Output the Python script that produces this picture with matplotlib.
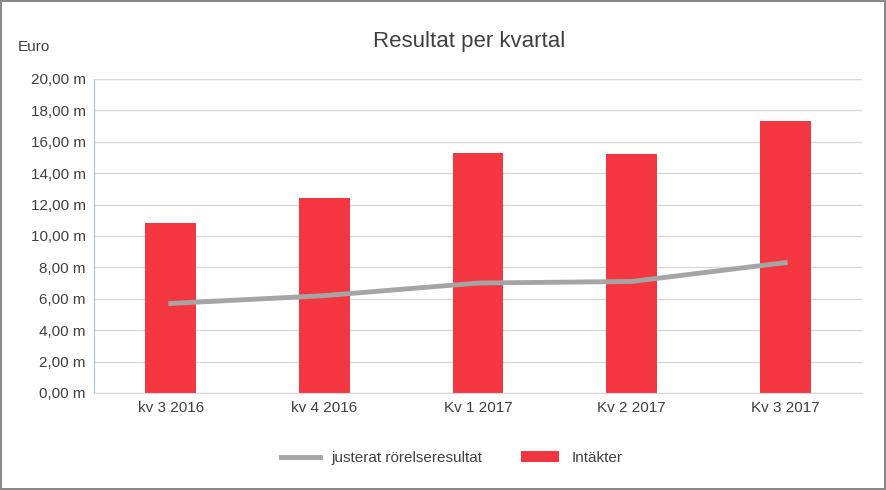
import matplotlib.pyplot as plt
import numpy as np

plt.rcParams['font.family'] = 'Liberation Sans'

categories = ['kv 3 2016', 'kv 4 2016', 'Kv 1 2017', 'Kv 2 2017', 'Kv 3 2017']
intakter = [10.8, 12.4, 15.3, 15.2, 17.35]
justerat = [5.7, 6.2, 7.0, 7.1, 8.3]
yticks = np.arange(0, 21, 2)

fig = plt.figure(figsize=(8.86, 4.9), dpi=100)
fig.patch.set_edgecolor('#888888')
fig.patch.set_linewidth(1.5)
ax = fig.add_axes([0.106, 0.198, 0.867, 0.641])

x = np.arange(len(categories))
ax.bar(x, intakter, width=0.33, color='#F43641', label='Intäkter', zorder=2)
ax.plot(x, justerat, color='#A5A5A5', lw=3.5, label='justerat rörelseresultat', zorder=3)

ax.set_xlim(-0.5, len(categories) - 0.5)
ax.set_ylim(0, 20)
ax.set_yticks(yticks)
ax.set_yticklabels(['{:.2f} m'.format(v).replace('.', ',') for v in yticks])
ax.set_xticks(x)
ax.set_xticklabels(categories)
ax.tick_params(axis='both', length=0, labelsize=11, colors='#404040', pad=6)
ax.grid(axis='y', color='#D9D9D9', lw=1, zorder=0)
for s in ['top', 'right']:
    ax.spines[s].set_visible(False)
ax.spines['left'].set_color('#9DC3E6')
ax.spines['bottom'].set_color('#D9D9D9')

fig.text(0.53, 0.915, 'Resultat per kvartal', ha='center', va='center', fontsize=16, color='#404040')
fig.text(0.02, 0.905, 'Euro', ha='left', va='center', fontsize=11, color='#404040')
fig.legend(loc='center', bbox_to_anchor=(0.51, 0.065), ncol=2, frameon=False,
           fontsize=11, handlelength=2.5, columnspacing=2.5, labelcolor='#404040')

fig.savefig('out.png', dpi=100, edgecolor=fig.get_edgecolor())
